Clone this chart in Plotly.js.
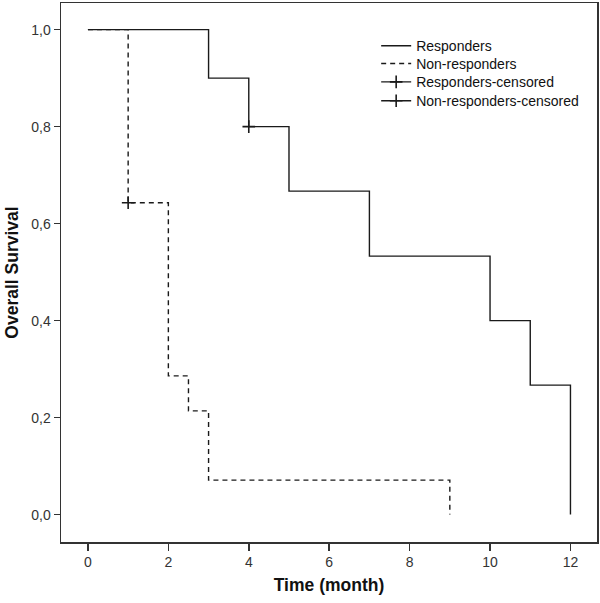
<!DOCTYPE html>
<html>
<head>
<meta charset="utf-8">
<script src="https://cdn.plot.ly/plotly-3.0.1.min.js"></script>
<style>html,body{margin:0;padding:0;background:#fff;}#chart{width:600px;height:603px;}</style>
</head>
<body>
<div id="chart"></div>
<script>
// Kaplan-Meier step data (time in months, survival proportion)
const respTime = [0, 3, 3, 4, 4, 5, 5, 7, 7, 10, 10, 11, 11, 12, 12];
const respSurv = [1.0, 1.0, 0.9, 0.9, 0.8, 0.8, 0.667, 0.667, 0.533, 0.533, 0.4, 0.4, 0.267, 0.267, 0.0];
const nonTime = [0, 1, 1, 2, 2, 2.5, 2.5, 3, 3, 9, 9];
const nonSurv = [1.0, 1.0, 0.643, 0.643, 0.286, 0.286, 0.214, 0.214, 0.071, 0.071, 0.0];
const respCensTime = [4];
const respCensSurv = [0.8];
const nonCensTime = [1];
const nonCensSurv = [0.643];
const seriesNames = ['Responders', 'Non-responders', 'Responders-censored', 'Non-responders-censored'];
const xTicks = [0, 2, 4, 6, 8, 10, 12];
const yTicks = [0, 0.2, 0.4, 0.6, 0.8, 1.0];

const lineCol = '#1a1a1a';
const FONT = 'Liberation Sans, Arial, sans-serif';
const traces = [
  {x: respTime, y: respSurv, mode: 'lines', name: seriesNames[0], legend: 'legend',
   line: {color: lineCol, width: 1.4}},
  {x: nonTime, y: nonSurv, mode: 'lines', name: seriesNames[1], legend: 'legend2',
   line: {color: lineCol, width: 1.4, dash: '5px,4px'}},
  {x: respCensTime, y: respCensSurv, mode: 'lines+markers', name: seriesNames[2], legend: 'legend3',
   line: {color: lineCol, width: 1.4},
   marker: {symbol: 'cross-thin', size: 9, line: {color: lineCol, width: 1.6}}},
  {x: nonCensTime, y: nonCensSurv, mode: 'lines+markers', name: seriesNames[3], legend: 'legend4',
   line: {color: lineCol, width: 1.4},
   marker: {symbol: 'cross-thin', size: 9, line: {color: lineCol, width: 1.6}}}
];

const legFont = {family: FONT, size: 14, color: '#111'};
function leg(y) {
  return {x: 0.588, y: y, xanchor: 'left', yanchor: 'middle', font: legFont,
          bgcolor: 'rgba(0,0,0,0)', borderwidth: 0};
}
const tickFont = {family: FONT, size: 14, color: '#333'};
const layout = {
  width: 600, height: 603,
  margin: {l: 61, r: 3, t: 3, b: 61},
  paper_bgcolor: '#fff', plot_bgcolor: '#fff',
  separators: ', ',
  showlegend: true,
  legend: leg(0.920), legend2: leg(0.887), legend3: leg(0.853), legend4: leg(0.818),
  xaxis: {range: [-0.67, 12.66], tickvals: xTicks, ticktext: xTicks.map(String),
    showgrid: false, zeroline: false, showline: true, mirror: true,
    linecolor: '#333', linewidth: 1.5, ticks: 'outside', ticklen: 7, tickwidth: 1.5,
    tickcolor: '#333', tickfont: tickFont,
    title: {text: '<b>Time (month)</b>', font: {family: FONT, size: 17.5, color: '#111'}, standoff: 9}},
  yaxis: {range: [-0.0565, 1.055], tickvals: yTicks, tickformat: '.1f',
    showgrid: false, zeroline: false, showline: true, mirror: true,
    linecolor: '#333', linewidth: 1.5, ticks: 'outside', ticklen: 6, tickwidth: 1.5,
    tickcolor: '#333', tickfont: tickFont,
    title: {text: '<b>Overall Survival</b>', font: {family: FONT, size: 17.5, color: '#111'}, standoff: 8}}
};
Plotly.newPlot('chart', traces, layout, {displayModeBar: false, staticPlot: true});
</script>
</body>
</html>
